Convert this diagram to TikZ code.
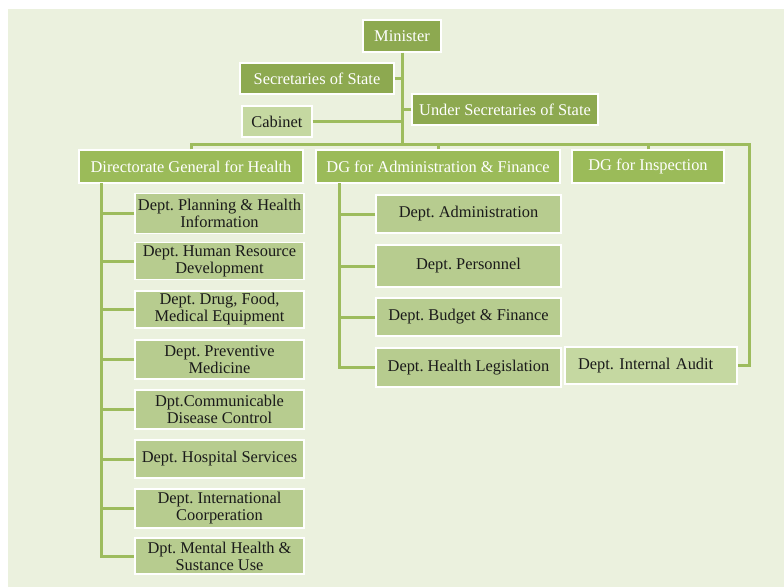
\documentclass[tikz,border=0pt]{standalone}
\usepackage{fontspec}
\setmainfont{Liberation Serif}
\frenchspacing
\definecolor{bgc}{HTML}{EBF1DE}
\definecolor{darkg}{HTML}{8DA950}
\definecolor{dgg}{HTML}{9BBB59}
\definecolor{deptg}{HTML}{B7CC8F}
\definecolor{lightg}{HTML}{C5D8A1}
\definecolor{lineg}{HTML}{9DBC5D}
\definecolor{txt}{HTML}{1A1A1A}
\tikzset{
  box/.style={draw=white, line width=1.2pt, inner sep=1pt, align=center,
    font=\fontsize{16.4}{17}\selectfont},
  topbox/.style={box, fill=darkg, text=white},
  dgbox/.style={box, fill=dgg, text=white},
  deptbox/.style={box, fill=deptg, text=txt},
  lightbox/.style={box, fill=lightg, text=txt},
  conn/.style={draw=lineg, line width=3pt}
}
\begin{document}
\begin{tikzpicture}[x=1pt, y=-1pt]
\useasboundingbox (0,0) rectangle (784,587);
\fill[white] (0,0) rectangle (784,587);
\fill[bgc] (8,9) rectangle (784,587);

% top level
\node[topbox, minimum width=78pt, minimum height=32pt] (min) at (402,36) {Minister};
\node[topbox, minimum width=154pt, minimum height=31pt] (sec) at (317,78.5) {Secretaries of State};
\node[topbox, minimum width=186pt, minimum height=31pt] (usec) at (505,109.5) {Under Secretaries of State};
\node[lightbox, minimum width=70pt, minimum height=31pt] (cab) at (277,121.5) {Cabinet};

% directorates
\node[dgbox, minimum width=224pt, minimum height=33pt] (dgh) at (191,166.5) {Directorate General for Health};
\node[dgbox, minimum width=244pt, minimum height=33pt] (dga) at (438,166.5) {DG for Administration \& Finance};
\node[dgbox, minimum width=152pt, minimum height=33pt] (dgi) at (648,166.5) {DG for Inspection};

% health departments
\node[deptbox, minimum width=169pt, minimum height=40pt] (h1) at (219.5,213.5) {Dept. Planning \& Health\\Information};
\node[deptbox, minimum width=169pt, minimum height=37pt] (h2) at (219.5,261) {Dept. Human Resource\\Development};
\node[deptbox, minimum width=169pt, minimum height=37pt] (h3) at (219.5,309.5) {Dept. Drug, Food,\\Medical Equipment};
\node[deptbox, minimum width=169pt, minimum height=39pt] (h4) at (219.5,359.5) {Dept. Preventive\\Medicine};
\node[deptbox, minimum width=169pt, minimum height=39pt] (h5) at (219.5,409.5) {Dpt.Communicable\\Disease Control};
\node[deptbox, minimum width=169pt, minimum height=38pt] (h6) at (219.5,459) {Dept. Hospital Services};
\node[deptbox, minimum width=169pt, minimum height=39pt] (h7) at (219.5,508.5) {Dept. International\\Coorperation};
\node[deptbox, minimum width=169pt, minimum height=36pt] (h8) at (219.5,556) {Dpt. Mental Health \&\\Sustance Use};

% admin departments
\node[deptbox, minimum width=185pt, minimum height=38pt] (a1) at (468.5,214) {Dept. Administration};
\node[deptbox, minimum width=185pt, minimum height=42pt] (a2) at (468.5,266) {Dept. Personnel};
\node[deptbox, minimum width=185pt, minimum height=38pt] (a3) at (468.5,317) {Dept. Budget \& Finance};
\node[deptbox, minimum width=185pt, minimum height=39pt] (a4) at (468.5,367.5) {Dept. Health Legislation};

% inspection department
\node[lightbox, minimum width=172pt, minimum height=37pt, text width=164pt, align=left] (ia) at (651,365.5) {\hspace*{9pt}Dept. Internal Audit};

% connectors
\coordinate (bus) at (402,144);
\coordinate (ir) at (749,144);
\coordinate (lv) at (101,183);
\coordinate (mv) at (339,183);
\draw[conn] (min.south) -- (bus);
\draw[conn] (sec.east) -- (sec.east -| min.south);
\draw[conn] (usec.west) -- (usec.west -| min.south);
\draw[conn] (cab.east) -- (cab.east -| min.south);
\draw[conn] (dgh.north) |- (bus);
\draw[conn] (dga.north) |- (bus);
\draw[conn] (dgi.north) |- (bus);
\draw[conn] (bus) -- (ir) |- (ia.east);

\draw[conn] (lv) |- (h8.west);
\foreach \n in {h1,h2,h3,h4,h5,h6,h7} \draw[conn] (\n.west) -- (\n.west -| lv);
\draw[conn] (mv) |- (a4.west);
\foreach \n in {a1,a2,a3} \draw[conn] (\n.west) -- (\n.west -| mv);
\end{tikzpicture}
\end{document}
